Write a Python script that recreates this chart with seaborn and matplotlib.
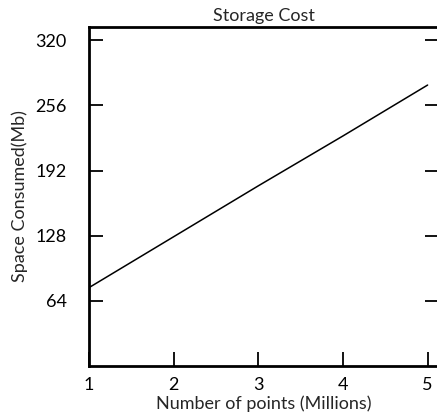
import matplotlib
matplotlib.use("Agg")
import matplotlib.pyplot as plt
import seaborn as sns
import pandas as pd

points = [1, 2, 3, 4, 5]
space_mb = [77, 127, 177, 226, 276]
y_ticks = [64, 128, 192, 256, 320]

sns.set_style("ticks")
plt.rcParams['font.family'] = ['Lato', 'DejaVu Sans']

df = pd.DataFrame({"points": points, "space": space_mb})

fig = plt.figure(figsize=(4.37, 4.19), dpi=100)
ax = fig.add_axes([0.2037, 0.1265, 0.80, 0.809])
sns.lineplot(data=df, x="points", y="space", ax=ax, color="black", linewidth=1.1)

ax.set_xlim(1, 5.13)
ax.set_ylim(0, 333)
ax.set_xticks(points)
ax.set_yticks(y_ticks)
ax.tick_params(direction="in", length=10, width=1.3, labelsize=13, colors="black")
ax.tick_params(axis="x", pad=8)
ax.tick_params(axis="y", right=True, pad=16)
for s in ax.spines.values():
    s.set_linewidth(2)
    s.set_color("black")

ax.set_title("Storage Cost", fontsize=13, pad=4)
ax.set_xlabel("Number of points (Millions)", fontsize=13, labelpad=2)
ax.set_ylabel("Space Consumed(Mb)", fontsize=13, labelpad=5)

fig.savefig("out.png", dpi=100)
